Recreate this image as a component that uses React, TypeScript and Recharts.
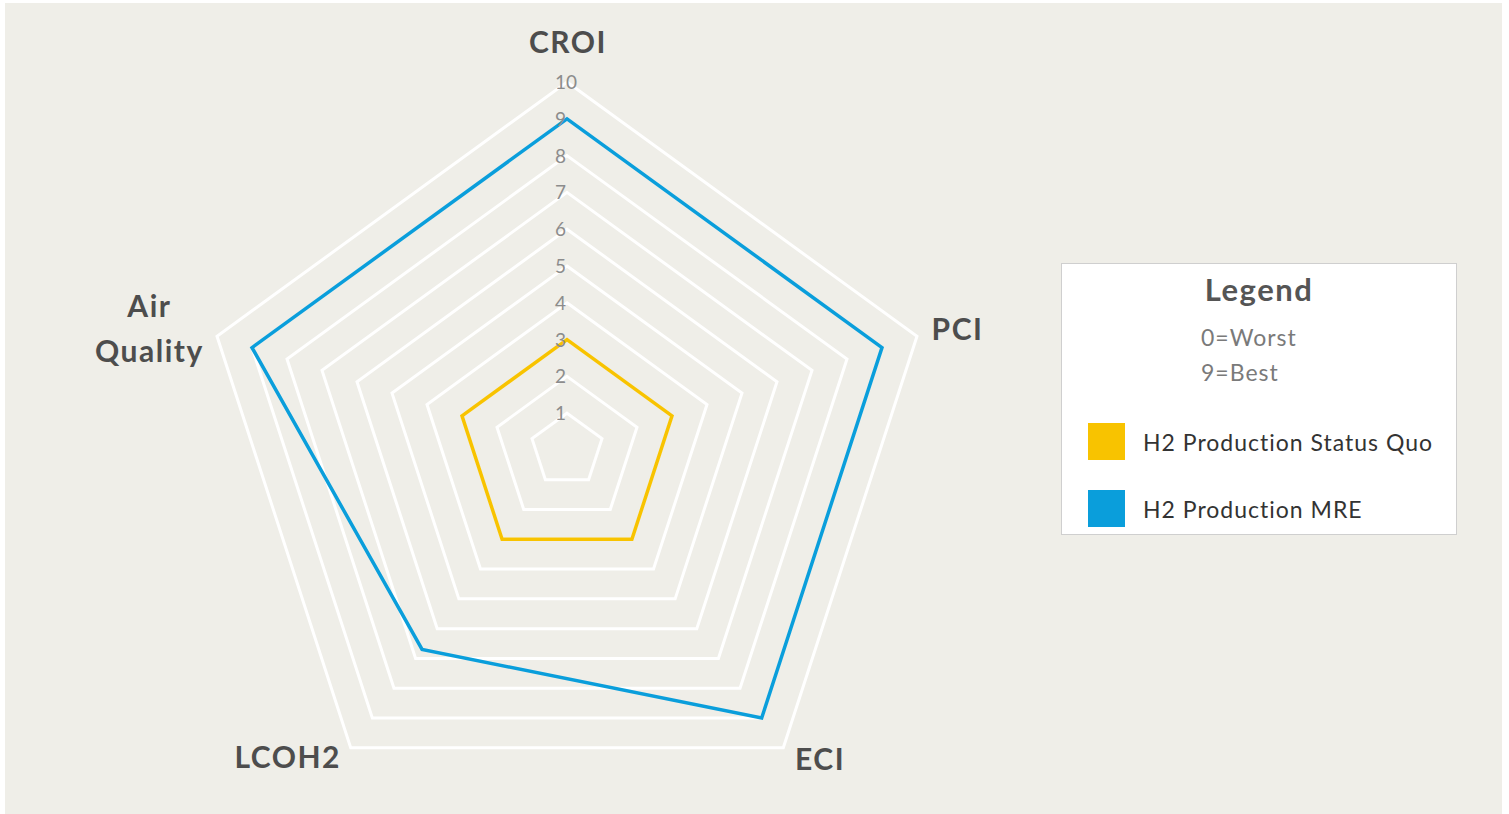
import React from "react";
import { RadarChart, Radar, PolarGrid, PolarAngleAxis, PolarRadiusAxis, Legend } from "recharts";

const categories = ["CROI", "PCI", "ECI", "LCOH2", "Air Quality"];
const statusQuo = [3, 3, 3, 3, 3];
const mre = [9, 9, 9, 6.7, 9];
const radiusTicks = [0, 1, 2, 3, 4, 5, 6, 7, 8, 9, 10];
const seriesNames = ["H2 Production Status Quo", "H2 Production MRE"];
const seriesColors = ["#f8c300", "#0a9edb"];
const legendTitle = "Legend";
const legendNotes = ["0=Worst", "9=Best"];

const data = categories.map((c, i) => ({ axis: c, sq: statusQuo[i], mre: mre[i] }));

const FONT = "Lato, 'Open Sans', sans-serif";

const labelStyle: Record<string, { anchor: "start" | "middle" | "end"; dx: number; dy: number }> = {
  CROI: { anchor: "middle", dx: 1, dy: -21 },
  PCI: { anchor: "start", dx: 7, dy: 6 },
  ECI: { anchor: "start", dx: 7, dy: 16 },
  LCOH2: { anchor: "end", dx: -5, dy: 14 },
  "Air Quality": { anchor: "middle", dx: -60, dy: -17 },
};

const AngleTick = (props: any) => {
  const { x, y, payload } = props;
  const v = String(payload.value);
  const s = labelStyle[v] || { anchor: "middle", dx: 0, dy: 0 };
  const words = v === "Air Quality" ? ["Air", "Quality"] : [v];
  return (
    <text
      x={x + s.dx}
      y={y + s.dy}
      textAnchor={s.anchor}
      fill="#4d4d4d"
      fontSize={30}
      fontWeight={700}
      fontFamily={FONT}
      letterSpacing={1.5}
    >
      {words.map((w, i) => (
        <tspan key={w} x={x + s.dx} dy={i === 0 ? 0 : 45}>
          {w}
        </tspan>
      ))}
    </text>
  );
};

const RadiusTick = (props: any) => {
  const { x, y, payload } = props;
  if (payload.value === 0) return null;
  return (
    <text x={x - 12} y={y + 7} textAnchor="start" fill="#8c8c8c" fontSize={19} fontFamily={FONT}>
      {payload.value}
    </text>
  );
};

const LegendBox = (props: any) => {
  const payload = props.payload || [];
  return (
    <div
      style={{
        width: 396,
        height: 272,
        background: "#ffffff",
        border: "1.5px solid #cfcfcf",
        boxSizing: "border-box",
        position: "relative",
        fontFamily: FONT,
      }}
    >
      <div style={{ position: "absolute", left: 0, width: "100%", top: 6, textAlign: "center", fontSize: 31, fontWeight: 700, color: "#555555", letterSpacing: 1.5 }}>
        {legendTitle}
      </div>
      {legendNotes.map((n, i) => (
        <div key={n} style={{ position: "absolute", left: 139, top: 59 + i * 35, fontSize: 23, color: "#7a7a7a", letterSpacing: 1 }}>
          {n}
        </div>
      ))}
      {seriesNames.map((name, i) => {
        const entry = payload.find((p: any) => p.value === name);
        const color = (entry && entry.color) || seriesColors[i];
        return (
          <div key={name} style={{ position: "absolute", left: 26, top: 159 + i * 67, display: "flex", alignItems: "center" }}>
            <div style={{ width: 37, height: 37, background: color }} />
            <div style={{ marginLeft: 18, fontSize: 23, color: "#333333", letterSpacing: 1 }}>{name}</div>
          </div>
        );
      })}
    </div>
  );
};

export default function App() {
  return (
    <div style={{ position: "absolute", left: 0, top: 0, width: 1509, height: 814, background: "#ffffff" }}>
      <div style={{ position: "absolute", left: 5, top: 3, width: 1497, height: 811, background: "#efeee8" }} />
      <div style={{ position: "absolute", left: 0, top: 0 }}>
        <RadarChart
          width={1509}
          height={814}
          data={data}
          cx={567}
          cy={450}
          outerRadius={368}
          margin={{ top: 0, right: 0, bottom: 0, left: 0 }}
        >
          <PolarGrid gridType="polygon" radialLines={false} stroke="#ffffff" strokeWidth={3} />
          <PolarAngleAxis dataKey="axis" tick={<AngleTick />} tickLine={false} axisLine={false} />
          <Radar
            name={seriesNames[0]}
            dataKey="sq"
            stroke={seriesColors[0]}
            fill={seriesColors[0]}
            fillOpacity={0}
            strokeWidth={3.5}
            isAnimationActive={false}
            dot={false}
          />
          <Radar
            name={seriesNames[1]}
            dataKey="mre"
            stroke={seriesColors[1]}
            fill={seriesColors[1]}
            fillOpacity={0}
            strokeWidth={3.5}
            isAnimationActive={false}
            dot={false}
          />
          <PolarRadiusAxis
            angle={90}
            domain={[0, 10]}
            ticks={radiusTicks as any}
            tickCount={11}
            axisLine={false}
            tickLine={false}
            tick={<RadiusTick />}
          />
          <Legend
            layout="vertical"
            align="right"
            verticalAlign="top"
            content={<LegendBox />}
            wrapperStyle={{ position: "absolute", left: 1061, top: 263, width: 396, height: 272 }}
          />
        </RadarChart>
      </div>
    </div>
  );
}
